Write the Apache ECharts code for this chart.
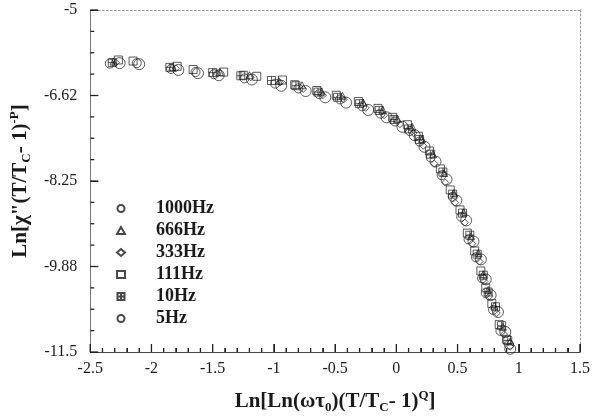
<!DOCTYPE html>
<html>
<head>
<meta charset="utf-8">
<script src="https://cdn.jsdelivr.net/npm/echarts@6/dist/echarts.min.js"></script>
<style>
  html, body { margin: 0; padding: 0; background: #fff; }
  #chart { width: 605px; height: 419px; }
</style>
</head>
<body>
<div id="chart"></div>
<script>
// frequencies shown in the legend, top to bottom
const freqNames = ['1000Hz', '666Hz', '333Hz', '111Hz', '10Hz', '5Hz']

// [Ln[Ln(w t0)(T/Tc-1)^Q], Ln[chi''(T/Tc-1)^-P]]
const data1000 = [
  [-2.34, -6.02], [-2.12, -6.01], [-1.84, -6.12], [-1.64, -6.18], [-1.49, -6.22], [-1.24, -6.30],
  [-0.99, -6.40], [-0.80, -6.49], [-0.63, -6.60], [-0.46, -6.70], [-0.28, -6.83], [-0.13, -6.97],
  [-0.01, -7.12], [0.11, -7.30], [0.19, -7.50], [0.28, -7.80], [0.37, -8.14], [0.46, -8.55],
  [0.53, -8.93], [0.59, -9.36], [0.65, -9.70], [0.70, -10.10], [0.73, -10.38], [0.79, -10.70],
  [0.85, -11.10], [0.92, -11.36]
]
const data666 = [
  [-2.31, -5.98], [-1.83, -6.08], [-1.44, -6.18], [-1.20, -6.24], [-0.96, -6.35], [-0.77, -6.43],
  [-0.61, -6.55], [-0.44, -6.63], [-0.27, -6.76], [-0.11, -6.90], [0.01, -7.07], [0.13, -7.22],
  [0.21, -7.45], [0.30, -7.74], [0.39, -8.10], [0.47, -8.48], [0.55, -8.85], [0.61, -9.30],
  [0.67, -9.62], [0.71, -10.02], [0.75, -10.32], [0.80, -10.62], [0.87, -11.02], [0.93, -11.30]
]
const data333 = [
  [-2.29, -6.00], [-1.80, -6.11], [-1.46, -6.21], [-1.19, -6.28], [-0.95, -6.38], [-0.76, -6.50],
  [-0.60, -6.62], [-0.43, -6.70], [-0.25, -6.86], [-0.10, -7.00], [0.03, -7.17], [0.14, -7.34],
  [0.22, -7.58], [0.31, -7.92], [0.40, -8.28], [0.48, -8.66], [0.56, -9.04], [0.62, -9.44],
  [0.68, -9.78], [0.72, -10.16], [0.76, -10.44], [0.82, -10.76], [0.88, -11.16], [0.93, -11.40]
]
const data111 = [
  [-2.27, -5.95], [-2.15, -5.97], [-1.79, -6.07], [-1.66, -6.13], [-1.41, -6.18], [-1.25, -6.24],
  [-1.14, -6.26], [-0.93, -6.33], [-0.83, -6.42], [-0.65, -6.53], [-0.49, -6.62], [-0.31, -6.74],
  [-0.15, -6.87], [-0.03, -7.04], [0.09, -7.18], [0.18, -7.40], [0.27, -7.68], [0.36, -8.02],
  [0.44, -8.42], [0.52, -8.80], [0.58, -9.24], [0.64, -9.58], [0.69, -9.96], [0.73, -10.28],
  [0.78, -10.58], [0.84, -10.98], [0.90, -11.26]
]
const data10 = [
  [-2.32, -6.00], [-1.85, -6.09], [-1.50, -6.19], [-1.27, -6.25], [-1.02, -6.34], [-0.82, -6.44],
  [-0.64, -6.56], [-0.48, -6.66], [-0.30, -6.78], [-0.14, -6.91], [-0.02, -7.08], [0.10, -7.26],
  [0.19, -7.46], [0.28, -7.74], [0.38, -8.08], [0.46, -8.50], [0.54, -8.86], [0.60, -9.28],
  [0.66, -9.64], [0.71, -10.04], [0.75, -10.36], [0.81, -10.64], [0.86, -11.00], [0.91, -11.28]
]
const data5 = [
  [-2.26, -6.01], [-2.10, -6.03], [-1.78, -6.14], [-1.62, -6.20], [-1.45, -6.24], [-1.18, -6.32],
  [-0.94, -6.44], [-0.74, -6.54], [-0.58, -6.66], [-0.41, -6.76], [-0.23, -6.90], [-0.08, -7.04],
  [0.05, -7.22], [0.15, -7.38], [0.23, -7.60], [0.32, -7.88], [0.41, -8.22], [0.49, -8.62],
  [0.57, -9.00], [0.63, -9.40], [0.69, -9.74], [0.73, -10.12], [0.77, -10.42], [0.83, -10.74],
  [0.89, -11.12], [0.93, -11.44]
]

const xTickValues = [-2.5, -2, -1.5, -1, -0.5, 0, 0.5, 1, 1.5]
// y ticks are not multiples of a round interval, so they are given explicitly
const yTickValues = [-11.5, -9.875, -8.25, -6.625, -5]
const yTickLabels = ['-11.5', '-9.88', '-8.25', '-6.62', '-5']

const serif = '"Liberation Serif", "Times New Roman", serif'
const ink = '#1a1a1a'
const tickColor = '#222'

function minorsOf(ticks, parts) {
  const out = []
  for (let i = 0; i < ticks.length - 1; i++) {
    const step = (ticks[i + 1] - ticks[i]) / parts
    for (let k = 1; k < parts; k++) out.push(ticks[i] + step * k)
  }
  return out
}

const crossSquare = 'path://M0,0L10,0L10,10L0,10Z M5,0L5,10 M0,5L10,5'

function scatter(name, data, symbol, size) {
  return {
    name, type: 'scatter', data, symbol, symbolSize: size,
    xAxisIndex: 0, yAxisIndex: 0,
    itemStyle: { color: 'transparent', borderColor: ink, borderWidth: 0.9 },
    emphasis: { disabled: true }
  }
}

const titleRich = {
  t: { fontFamily: serif, fontWeight: 'bold', fontSize: 21, color: ink },
  sub: { fontFamily: serif, fontWeight: 'bold', fontSize: 13, color: ink, padding: [12, 0, 0, 0] },
  sup: { fontFamily: serif, fontWeight: 'bold', fontSize: 13, color: ink, padding: [0, 0, 12, 0] }
}

const chart = echarts.init(document.getElementById('chart'))

chart.setOption({
  animation: false,
  grid: { left: 89, right: 25, top: 10, bottom: 67 },
  legend: {
    orient: 'vertical', left: 111, top: 194,
    itemWidth: 8, itemHeight: 7, itemGap: 3,
    textStyle: {
      fontFamily: serif, fontWeight: 'bold', fontSize: 18, color: ink,
      lineHeight: 19, padding: [0, 0, 0, 26]
    },
    data: freqNames
  },
  xAxis: [{
    type: 'value', min: -2.5, max: 1.5, interval: 0.5,
    name: '{t|Ln[Ln(ωτ}{sub|0}{t|)(T/T}{sub|C}{t|- 1)}{sup|Q}{t|]}',
    nameLocation: 'middle', nameGap: 37,
    nameTextStyle: { rich: titleRich },
    axisLine: { show: true, onZero: false, lineStyle: { color: '#444', width: 1 } },
    axisTick: { show: true, inside: true, length: 8, lineStyle: { color: tickColor, width: 1 } },
    minorTick: { show: true, splitNumber: 5, length: 4, lineStyle: { color: tickColor, width: 1 } },
    axisLabel: { fontFamily: serif, fontSize: 16, color: ink, margin: 9 },
    splitLine: { show: false }
  }, {
    type: 'value', position: 'top', min: -2.5, max: 1.5,
    axisLine: { show: true, onZero: false, lineStyle: { color: '#999', type: [2, 2] } },
    axisTick: { show: false }, axisLabel: { show: false }, splitLine: { show: false }
  }],
  yAxis: [{
    type: 'value', min: -11.5, max: -5,
    name: '{t|Ln[χ"(T/T}{sub|C}{t|- 1)}{sup|-P}{t|]}',
    nameLocation: 'middle', nameGap: 33, nameRotate: 90,
    nameTextStyle: { rich: titleRich },
    axisLine: { show: true, onZero: false, lineStyle: { color: '#777', width: 1 } },
    axisTick: { show: true, inside: true, length: 8, customValues: yTickValues, lineStyle: { color: tickColor, width: 1 } },
    axisLabel: {
      fontFamily: serif, fontSize: 16, color: ink, margin: 13,
      customValues: yTickValues,
      formatter: v => yTickLabels[yTickValues.indexOf(v)]
    },
    splitLine: { show: false }
  }, {
    type: 'value', min: -11.5, max: -5, position: 'right',
    axisLine: { show: true, onZero: false, lineStyle: { color: '#999', type: [2, 2] } },
    axisTick: { show: false }, axisLabel: { show: false }, splitLine: { show: false }
  }],
  series: [
    scatter('1000Hz', data1000, 'circle', 9),
    scatter('666Hz', data666, 'triangle', 7),
    scatter('333Hz', data333, 'diamond', 7),
    scatter('111Hz', data111, 'rect', 8),
    scatter('10Hz', data10, crossSquare, 8),
    scatter('5Hz', data5, 'circle', 11)
  ]
})

// extra inward tick marks (minor y ticks and a heavier copy of the rest),
// placed through the grid's own coordinate conversion
function drawTicks() {
  const lines = []
  const tick = (p, dx, dy) => lines.push({
    type: 'line', silent: true, z: 100,
    shape: { x1: p[0], y1: p[1], x2: p[0] + dx, y2: p[1] + dy },
    style: { stroke: tickColor, lineWidth: 1.3 }
  })
  xTickValues.forEach(v => tick(chart.convertToPixel({ gridIndex: 0 }, [v, -11.5]), 0, -8))
  minorsOf(xTickValues, 5).forEach(v => tick(chart.convertToPixel({ gridIndex: 0 }, [v, -11.5]), 0, -4))
  yTickValues.forEach(v => tick(chart.convertToPixel({ gridIndex: 0 }, [-2.5, v]), 8, 0))
  minorsOf(yTickValues, 4).forEach(v => tick(chart.convertToPixel({ gridIndex: 0 }, [-2.5, v]), 4, 0))
  chart.setOption({ graphic: { elements: lines } })
}
drawTicks()

window.addEventListener('resize', () => { chart.resize(); drawTicks() })
</script>
</body>
</html>
